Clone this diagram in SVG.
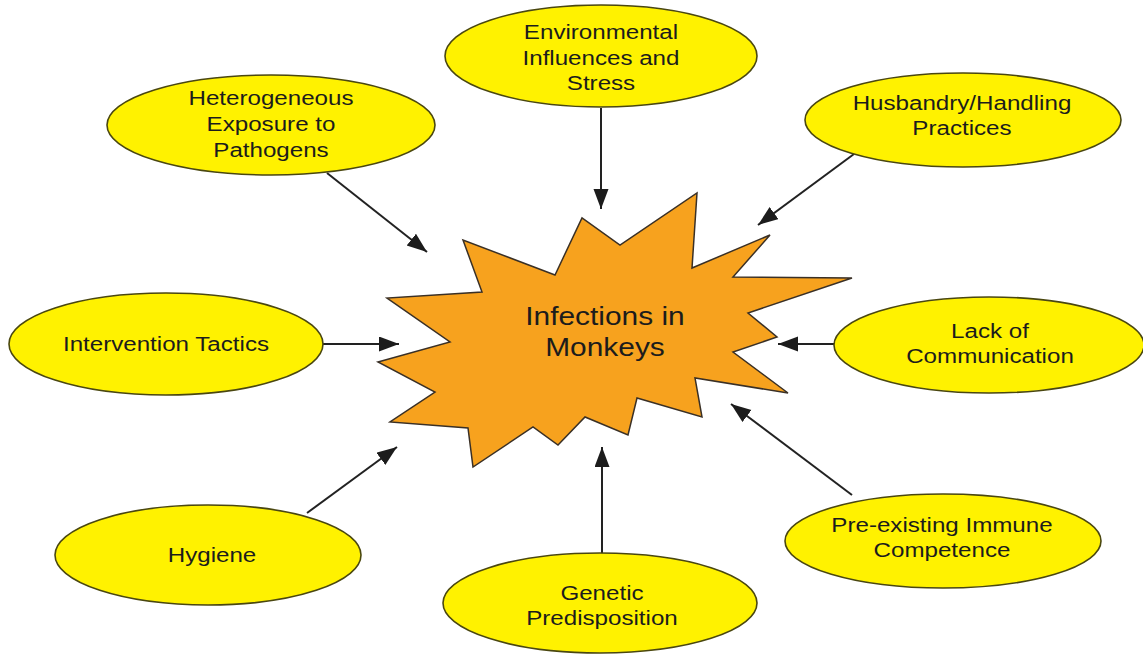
<svg xmlns="http://www.w3.org/2000/svg" width="1143" height="654" viewBox="0 0 1143 654">
<style>
.bg{fill:#ffffff}
.node ellipse{fill:#FFF200;stroke:#4a4710;stroke-width:1.6}
.star{fill:#F7A21E;stroke:#3a3026;stroke-width:1.5;stroke-linejoin:miter}
text{font-family:"Liberation Sans",Arial,sans-serif;font-size:21px;fill:#1c1c1c;text-anchor:middle}
.big{font-size:26px}
.conn line{stroke:#222;stroke-width:2}
</style>
<defs>
<marker id="ah" markerUnits="userSpaceOnUse" markerWidth="22" markerHeight="16" refX="20" refY="7.5" orient="auto">
<path d="M0,0 L20,7.5 L0,15 z" fill="#1c1c1c"/>
</marker>
</defs>
<rect class="bg" x="0" y="0" width="1143" height="654"/>
<g id="center">
<polygon class="star" points="697,193 692,268 770,235 733,277 852,278 748,313 777,337 733,352 788,393 695,378 702,417 637,398 628,435 585,417 558,445 533,427 473,467 468,428 390,422 435,392 378,362 450,342 387,298 482,292 463,240 555,275 582,218 620,245"/>
<g transform="matrix(1.15,0,0,1,-90.75,0)">
<text class="big" x="605" y="325">Infections in</text>
<text class="big" x="605" y="356">Monkeys</text>
</g>
</g>
<g class="conn" id="connectors">
<line x1="327" y1="173" x2="427" y2="252" marker-end="url(#ah)"/>
<line x1="601" y1="108" x2="601" y2="209" marker-end="url(#ah)"/>
<line x1="854" y1="154" x2="758" y2="225" marker-end="url(#ah)"/>
<line x1="323" y1="344" x2="399" y2="344" marker-end="url(#ah)"/>
<line x1="834" y1="344" x2="778" y2="344" marker-end="url(#ah)"/>
<line x1="307" y1="513" x2="397" y2="447" marker-end="url(#ah)"/>
<line x1="602" y1="553" x2="602" y2="447" marker-end="url(#ah)"/>
<line x1="852" y1="495" x2="731" y2="404" marker-end="url(#ah)"/>
</g>
<g class="node" id="heterogeneous">
<ellipse cx="271" cy="125" rx="164" ry="50"/>
<g transform="matrix(1.15,0,0,1,-40.65,0)">
<text x="271" y="105">Heterogeneous</text>
<text x="271" y="131">Exposure to</text>
<text x="271" y="157">Pathogens</text>
</g>
</g>
<g class="node" id="environmental">
<ellipse cx="601" cy="56" rx="156" ry="51"/>
<g transform="matrix(1.15,0,0,1,-90.15,0)">
<text x="601" y="39">Environmental</text>
<text x="601" y="65">Influences and</text>
<text x="601" y="90">Stress</text>
</g>
</g>
<g class="node" id="husbandry">
<ellipse cx="963" cy="120" rx="158" ry="47"/>
<g transform="matrix(1.15,0,0,1,-144.3,0)">
<text x="962" y="110">Husbandry/Handling</text>
<text x="962" y="135">Practices</text>
</g>
</g>
<g class="node" id="intervention">
<ellipse cx="166" cy="344" rx="157" ry="51"/>
<g transform="matrix(1.15,0,0,1,-24.9,0)">
<text x="166" y="351">Intervention Tactics</text>
</g>
</g>
<g class="node" id="lack">
<ellipse cx="989" cy="345" rx="155" ry="48"/>
<g transform="matrix(1.15,0,0,1,-148.5,0)">
<text x="990" y="338">Lack of</text>
<text x="990" y="363">Communication</text>
</g>
</g>
<g class="node" id="hygiene">
<ellipse cx="208" cy="555" rx="153" ry="50"/>
<g transform="matrix(1.15,0,0,1,-31.8,0)">
<text x="212" y="562">Hygiene</text>
</g>
</g>
<g class="node" id="genetic">
<ellipse cx="600" cy="603" rx="157" ry="50"/>
<g transform="matrix(1.15,0,0,1,-90.3,0)">
<text x="602" y="600">Genetic</text>
<text x="602" y="625">Predisposition</text>
</g>
</g>
<g class="node" id="preexisting">
<ellipse cx="943" cy="541" rx="158" ry="47"/>
<g transform="matrix(1.15,0,0,1,-141.3,0)">
<text x="942" y="532">Pre-existing Immune</text>
<text x="942" y="557">Competence</text>
</g>
</g>
</svg>
